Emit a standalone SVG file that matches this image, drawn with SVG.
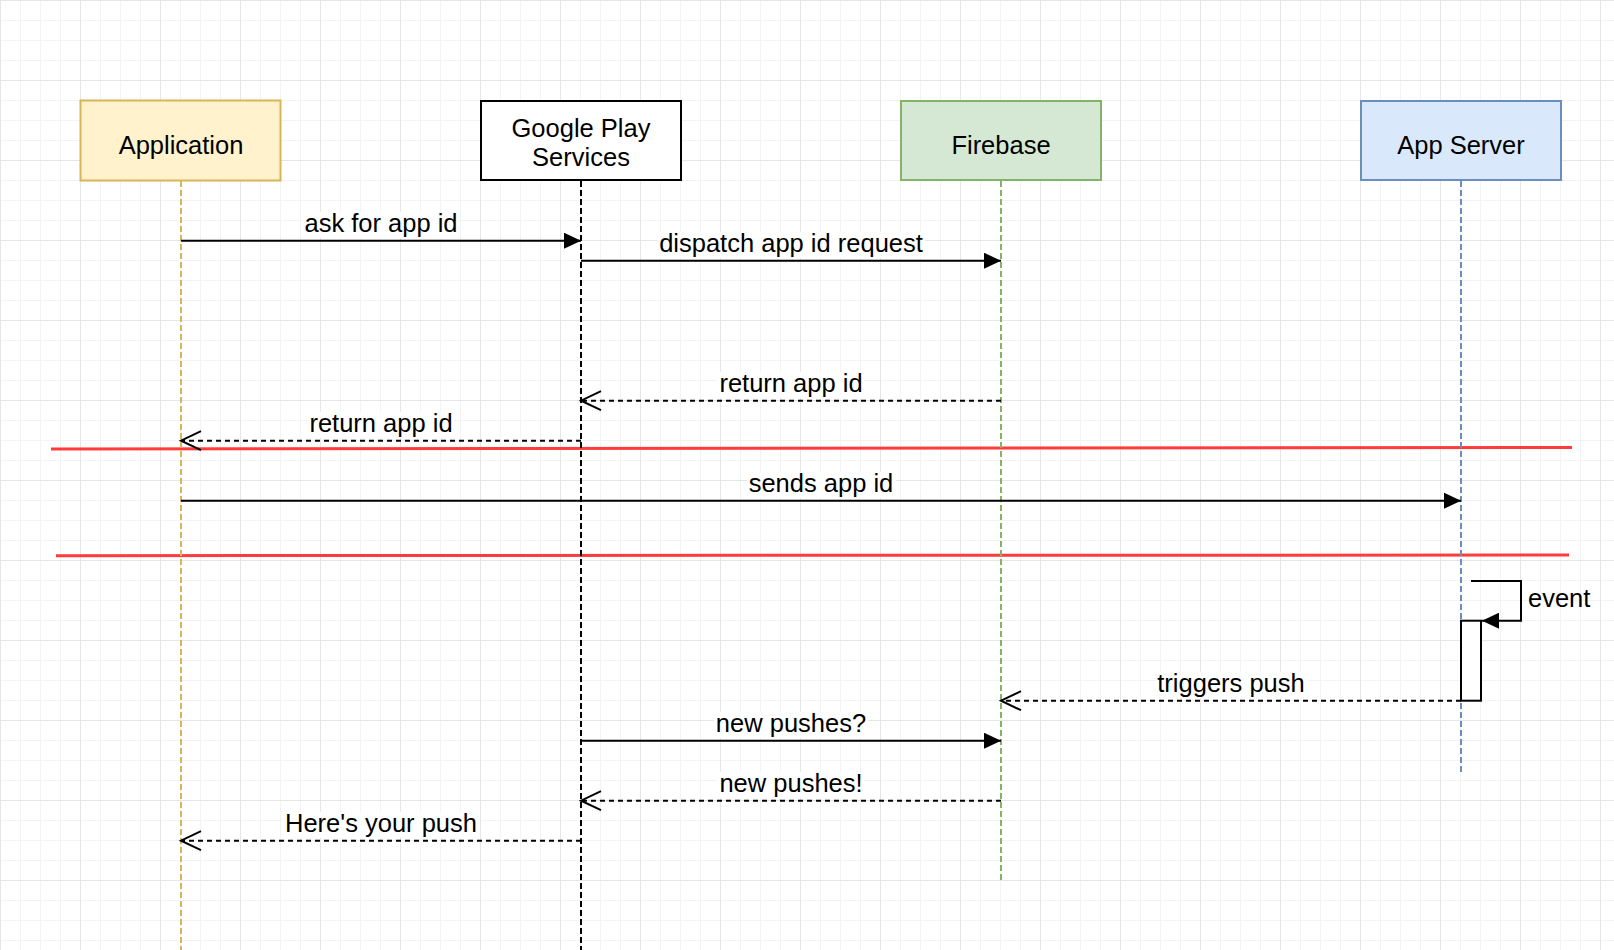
<svg xmlns="http://www.w3.org/2000/svg" width="1614" height="950" viewBox="0 0 1614 950">
<style>
text{font-family:"Liberation Sans",Arial,Helvetica,sans-serif;font-size:25.5px;fill:#000}
.lbl{text-anchor:middle}
.lblbg{fill:#fff}
.box{stroke-width:2}
.life{fill:none;stroke-width:2;stroke-dasharray:6 3}
.msg{fill:none;stroke:#000;stroke-width:2}
.ret{fill:none;stroke:#000;stroke-width:2;stroke-dasharray:5 4}
.sep{stroke:#ff3b3b;stroke-width:3;fill:none}
</style>
<defs>
<pattern id="minor" width="20" height="20" patternUnits="userSpaceOnUse">
<path d="M0.5,0V20M0,0.5H20" stroke="#f3f3f3" stroke-width="1" fill="none"/>
</pattern>
<pattern id="major" width="80" height="80" patternUnits="userSpaceOnUse">
<rect width="80" height="80" fill="url(#minor)"/>
<path d="M0.5,0V80M0,0.5H80" stroke="#e6e6e6" stroke-width="1" fill="none"/>
</pattern>
<marker id="fill" viewBox="0 0 17 16" refX="17" refY="8" markerWidth="17" markerHeight="16" orient="auto" markerUnits="userSpaceOnUse">
<path d="M0,0L17,8L0,16z" fill="#000"/>
</marker>
<marker id="open" viewBox="-2 -2 24 23" refX="20" refY="9.5" markerWidth="24" markerHeight="23" orient="auto" markerUnits="userSpaceOnUse" overflow="visible">
<path d="M0,0L20,9.5L0,19" fill="none" stroke="#000" stroke-width="2"/>
</marker>
</defs>
<rect width="1614" height="950" fill="#fff"/>
<rect width="1614" height="950" fill="url(#major)"/>

<g id="separators">
<line class="sep" x1="51" y1="449" x2="1572" y2="447.5"/>
<line class="sep" x1="56" y1="555.7" x2="1569" y2="555"/>
</g>

<g id="lifelines">
<line class="life" x1="181" y1="181" x2="181" y2="950" stroke="#d6b656"/>
<line class="life" x1="581" y1="181" x2="581" y2="950" stroke="#000"/>
<line class="life" x1="1001" y1="181" x2="1001" y2="880" stroke="#82b366"/>
<line class="life" x1="1461" y1="181" x2="1461" y2="775" stroke="#6c8ebf"/>
</g>

<g id="application">
<rect class="box" x="80.5" y="100.5" width="200" height="80" fill="#fff2cc" stroke="#d6b656"/>
<text class="lbl" x="181" y="153.5">Application</text>
</g>
<g id="google-play-services">
<rect class="box" x="481" y="101" width="200" height="79" fill="#fff" stroke="#000"/>
<text class="lbl" x="581" y="136.7">Google Play</text>
<text class="lbl" x="581" y="166">Services</text>
</g>
<g id="firebase">
<rect class="box" x="901" y="101" width="200" height="79" fill="#d5e8d4" stroke="#82b366"/>
<text class="lbl" x="1001" y="153.5">Firebase</text>
</g>
<g id="app-server">
<rect class="box" x="1361" y="101" width="200" height="79" fill="#dae8fc" stroke="#6c8ebf"/>
<text class="lbl" x="1461" y="153.5">App Server</text>
</g>

<g id="activation">
<rect x="1461" y="620.7" width="20" height="80" fill="#fff" stroke="#000" stroke-width="2"/>
</g>

<g id="connectors">
<line class="msg" x1="181" y1="240.7" x2="581" y2="240.7" marker-end="url(#fill)"/>
<rect class="lblbg" x="302" y="212" width="157" height="26"/>
<text class="lbl" x="381" y="231.7">ask for app id</text>

<line class="msg" x1="581" y1="260.7" x2="1001" y2="260.7" marker-end="url(#fill)"/>
<rect class="lblbg" x="657" y="232" width="268" height="26"/>
<text class="lbl" x="791" y="251.7">dispatch app id request</text>

<line class="ret" x1="1001" y1="400.7" x2="581" y2="400.7" marker-end="url(#open)"/>
<rect class="lblbg" x="717" y="372" width="147" height="26"/>
<text class="lbl" x="791" y="391.7">return app id</text>

<line class="ret" x1="581" y1="440.7" x2="181" y2="440.7" marker-end="url(#open)"/>
<rect class="lblbg" x="307" y="412" width="147" height="26"/>
<text class="lbl" x="381" y="431.7">return app id</text>

<line class="msg" x1="181" y1="500.7" x2="1461" y2="500.7" marker-end="url(#fill)"/>
<rect class="lblbg" x="747" y="472" width="149" height="26"/>
<text class="lbl" x="821" y="491.7">sends app id</text>

<path class="msg" d="M1471,581H1521V620.7H1482" marker-end="url(#fill)"/>
<text x="1528" y="607">event</text>

<line class="ret" x1="1461" y1="700.7" x2="1001" y2="700.7" marker-end="url(#open)"/>
<rect class="lblbg" x="1157" y="672" width="151" height="26"/>
<text class="lbl" x="1231" y="691.7">triggers push</text>

<line class="msg" x1="581" y1="740.7" x2="1001" y2="740.7" marker-end="url(#fill)"/>
<rect class="lblbg" x="714" y="712" width="154" height="26"/>
<text class="lbl" x="791" y="731.7">new pushes?</text>

<line class="ret" x1="1001" y1="800.7" x2="581" y2="800.7" marker-end="url(#open)"/>
<rect class="lblbg" x="717" y="772" width="147" height="26"/>
<text class="lbl" x="791" y="791.7">new pushes!</text>

<line class="ret" x1="581" y1="840.7" x2="181" y2="840.7" marker-end="url(#open)"/>
<rect class="lblbg" x="283" y="812" width="196" height="26"/>
<text class="lbl" x="381" y="831.7">Here's your push</text>
</g>
</svg>
